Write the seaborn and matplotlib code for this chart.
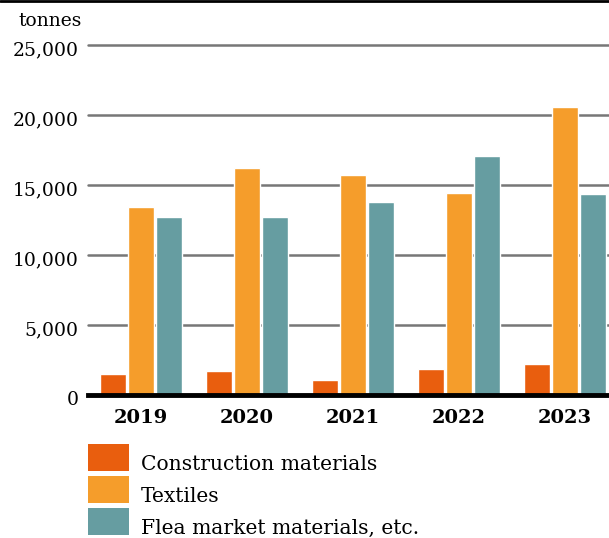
import matplotlib
matplotlib.use("Agg")
import matplotlib.pyplot as plt
import matplotlib.transforms as mtransforms
from matplotlib.patches import Rectangle
from matplotlib.lines import Line2D
import pandas as pd
import seaborn as sns

years = ["2019", "2020", "2021", "2022", "2023"]
series = ["Construction materials", "Textiles", "Flea market materials, etc."]
construction = [1500, 1700, 1100, 1850, 2200]
textiles = [13400, 16200, 15700, 14400, 20600]
flea_market = [12700, 12700, 13800, 17100, 14350]
y_ticks = [0, 5000, 10000, 15000, 20000, 25000]
colors = ["#E95E0E", "#F59D2B", "#669DA1"]

df = pd.DataFrame({
    "year": years * 3,
    "category": [s for s in series for _ in years],
    "tonnes": construction + textiles + flea_market,
})

sns.set_theme(style="white")
plt.rcParams["font.family"] = ["DejaVu Serif"]
plt.rcParams["text.color"] = "black"
plt.rcParams["xtick.color"] = "black"
plt.rcParams["ytick.color"] = "black"

W, H = 609, 538
fig = plt.figure(figsize=(W / 100, H / 100), dpi=100)
ax = fig.add_axes([88 / W, 1 - 395 / H, 521 / W, 350 / H])

sns.barplot(data=df, x="year", y="tonnes", hue="category", order=years,
            hue_order=series, palette=colors, width=0.8, gap=0.07,
            saturation=1, ax=ax, legend=False)

ax.set_xlim(-0.5, 4.415)
ax.set_ylim(0, 25000)
ax.set_yticks(y_ticks)
ax.set_yticklabels([f"{v:,}" for v in y_ticks], fontsize=13.5, color="black")
ax.grid(axis="y", color="#777777", linewidth=1.8)
for gl in ax.get_ygridlines():
    gl.set_clip_on(False)
ax.set_axisbelow(True)
for side in ["top", "right", "left"]:
    ax.spines[side].set_visible(False)
ax.spines["bottom"].set_color("black")
ax.spines["bottom"].set_linewidth(3.5)
ax.spines["bottom"].set_zorder(5)
ax.tick_params(axis="y", length=0, pad=7)
shift_down = mtransforms.ScaledTranslation(0, -3 / 100, fig.dpi_scale_trans)
for lbl in ax.get_yticklabels():
    lbl.set_transform(lbl.get_transform() + shift_down)
ax.tick_params(axis="x", length=0, pad=10)
for lbl in ax.get_xticklabels():
    lbl.set_fontweight("bold")
    lbl.set_fontsize(14)
    lbl.set_color("black")
ax.set_xlabel("")
ax.set_ylabel("")

# unit label above the value axis
fig.text(50 / W, 1 - 21 / H, "tonnes", ha="center", va="center", fontsize=13.5)

# rule across the top of the figure
fig.add_artist(Line2D([0, 1], [1 - 1 / H, 1 - 1 / H], color="black",
                      linewidth=2, transform=fig.transFigure))

# legend swatches and labels
for i, (name, col) in enumerate(zip(series, colors)):
    top = 444 + i * 32
    fig.add_artist(Rectangle((88 / W, 1 - (top + 27) / H), 41 / W, 27 / H,
                             facecolor=col, edgecolor="none",
                             transform=fig.transFigure))
    fig.text(141 / W, 1 - (top + 26) / H, name, ha="left", va="baseline",
             fontsize=14.6)

fig.savefig("out.png", dpi=100)
